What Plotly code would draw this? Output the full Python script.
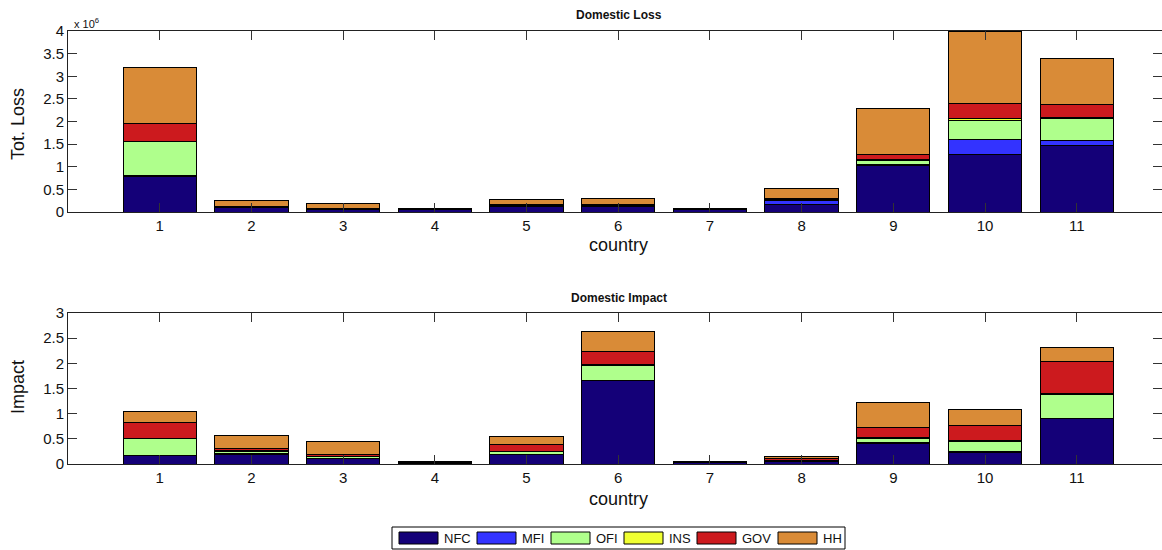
import plotly.graph_objects as go

W, H = 1162, 550

countries = list(range(1, 12))
sectors = ["NFC", "MFI", "OFI", "INS", "GOV", "HH"]
sector_colors = ["#140078", "#3333ff", "#afff8c", "#f0ff32", "#cc1a1e", "#d98b37"]

# Domestic loss by sector (units of 1e6)
loss_nfc = [0.79, 0.09, 0.06, 0.05, 0.13, 0.13, 0.05, 0.17, 1.03, 1.28, 1.48]
loss_mfi = [0.01, 0.01, 0.005, 0.0, 0.01, 0.01, 0.0, 0.095, 0.02, 0.32, 0.10]
loss_ofi = [0.75, 0.01, 0.005, 0.005, 0.01, 0.01, 0.005, 0.01, 0.09, 0.42, 0.49]
loss_ins = [0.01, 0.0, 0.0, 0.0, 0.0, 0.0, 0.0, 0.005, 0.01, 0.05, 0.01]
loss_gov = [0.39, 0.02, 0.015, 0.01, 0.02, 0.02, 0.01, 0.02, 0.11, 0.33, 0.30]
loss_hh = [1.25, 0.13, 0.095, 0.015, 0.11, 0.12, 0.01, 0.21, 1.03, 1.58, 1.02]

# Domestic impact by sector
imp_nfc = [0.17, 0.19, 0.10, 0.01, 0.18, 1.65, 0.03, 0.05, 0.41, 0.23, 0.90]
imp_mfi = [0.005, 0.02, 0.01, 0.0, 0.01, 0.01, 0.0, 0.01, 0.01, 0.02, 0.01]
imp_ofi = [0.325, 0.04, 0.03, 0.005, 0.05, 0.30, 0.005, 0.01, 0.09, 0.20, 0.48]
imp_ins = [0.01, 0.01, 0.01, 0.0, 0.01, 0.02, 0.0, 0.0, 0.02, 0.01, 0.02]
imp_gov = [0.32, 0.04, 0.03, 0.02, 0.13, 0.25, 0.005, 0.04, 0.19, 0.30, 0.63]
imp_hh = [0.21, 0.26, 0.275, 0.015, 0.17, 0.41, 0.01, 0.04, 0.51, 0.315, 0.28]

loss_series = [loss_nfc, loss_mfi, loss_ofi, loss_ins, loss_gov, loss_hh]
imp_series = [imp_nfc, imp_mfi, imp_ofi, imp_ins, imp_gov, imp_hh]

loss_ticks = [0, 0.5, 1, 1.5, 2, 2.5, 3, 3.5, 4]
imp_ticks = [0, 0.5, 1, 1.5, 2, 2.5, 3]

FONT = "Liberation Sans, Arial, Helvetica, sans-serif"


def px_x(p):
    return p / W


def px_y(p):
    return 1 - p / H


fig = go.Figure()
for name, color, vals in zip(sectors, sector_colors, loss_series):
    fig.add_trace(go.Bar(x=countries, y=vals, name=name, width=0.8,
                         marker=dict(color=color, line=dict(color="black", width=1)),
                         xaxis="x", yaxis="y", showlegend=False))
for name, color, vals in zip(sectors, sector_colors, imp_series):
    fig.add_trace(go.Bar(x=countries, y=vals, name=name, width=0.8,
                         marker=dict(color=color, line=dict(color="black", width=1)),
                         xaxis="x2", yaxis="y2", showlegend=False))

axis_common = dict(showline=True, linecolor="#222", linewidth=1, mirror="ticks",
                   ticks="inside", ticklen=9, tickcolor="#333", tickwidth=1,
                   showgrid=False, zeroline=False, automargin=False,
                   tickfont=dict(family=FONT, size=15, color="#111"))

x_dom = [px_x(68), 1.0]
fig.update_layout(
    width=W, height=H,
    margin=dict(l=0, r=0, t=0, b=0, pad=0),
    paper_bgcolor="white", plot_bgcolor="white",
    barmode="stack", bargap=0.2, showlegend=False,
    font=dict(family=FONT, color="#111"),
    xaxis=dict(domain=x_dom, range=[0, 11.93], tickvals=countries,
               anchor="y", **axis_common),
    yaxis=dict(domain=[px_y(212), px_y(31)], range=[0, 4], tickvals=loss_ticks,
               ticktext=[f"{t:g}" for t in loss_ticks], anchor="x", **axis_common),
    xaxis2=dict(domain=x_dom, range=[0, 11.93], tickvals=countries,
                anchor="y2", **axis_common),
    yaxis2=dict(domain=[px_y(464), px_y(313)], range=[0, 3], tickvals=imp_ticks,
                ticktext=[f"{t:g}" for t in imp_ticks], anchor="x2", **axis_common),
)

ann = []
cx = (68 + 1169) / 2


def label(text, x, y, size, angle=0, xanchor="center", yanchor="middle"):
    ann.append(dict(text=text, x=px_x(x), y=px_y(y), xref="paper", yref="paper",
                    xanchor=xanchor, yanchor=yanchor, showarrow=False,
                    textangle=angle, font=dict(size=size, family=FONT, color="#111")))


# panel titles
label("<b>Domestic Loss</b>", cx, 15, 12)
label("<b>Domestic Impact</b>", cx, 298, 12)
# axis titles
label("country", cx, 245, 18)
label("country", cx, 499, 18)
label("Tot. Loss", 18, 124, 18, angle=-90)
label("Impact", 18, 387, 18, angle=-90)
# exponent label for the loss axis
label("x 10<sup>6</sup>", 72, 32, 11, xanchor="left", yanchor="bottom")

# legend box with wide swatches
shapes = [dict(type="rect", xref="paper", yref="paper",
               x0=px_x(392), x1=px_x(845), y0=px_y(549), y1=px_y(527),
               line=dict(color="black", width=1), fillcolor="white")]
swatch_left = [399, 477, 551, 624, 697, 778]
for name, color, sx in zip(sectors, sector_colors, swatch_left):
    shapes.append(dict(type="rect", xref="paper", yref="paper",
                       x0=px_x(sx), x1=px_x(sx + 39), y0=px_y(544), y1=px_y(532),
                       line=dict(color="black", width=1), fillcolor=color))
    label(name, sx + 43, 538, 13, xanchor="left")

fig.update_layout(annotations=ann, shapes=shapes)
fig.write_html("out.html")
